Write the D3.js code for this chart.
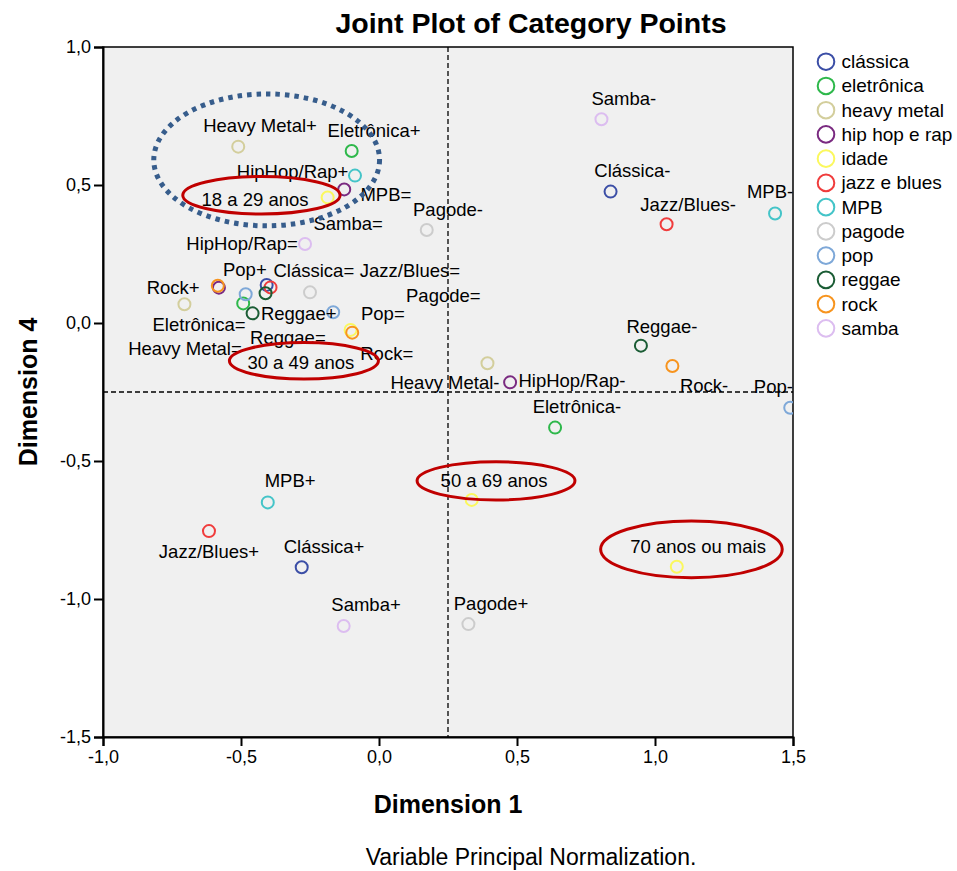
<!DOCTYPE html>
<html><head><meta charset="utf-8">
<script src="https://cdn.jsdelivr.net/npm/d3@7"></script>
<style>
html,body{margin:0;padding:0;background:#fff;}
svg{display:block;font-family:"Liberation Sans",Arial,sans-serif;}
</style></head>
<body>
<svg id="chart" width="957" height="871"></svg>
<script>
// ---- data ----
const categories = ["clássica","eletrônica","heavy metal","hip hop e rap","idade","jazz e blues","MPB","pagode","pop","reggae","rock","samba"];
const categoryColors = ["#3b4ea6","#2eb84b","#d3ce9c","#7a2a80","#fbf85e","#f03c3c","#44c4c8","#cccccc","#7ea8d8","#1a5c34","#f7941e","#dcbdf0"];

// points per variable: [dim1, dim4]
const classica   = [[-0.280,-0.885],[-0.407,0.138],[0.839,0.476]];
const eletronica = [[-0.099,0.623],[-0.492,0.071],[0.638,-0.379]];
const heavyMetal = [[-0.510,0.639],[-0.705,0.068],[0.393,-0.146]];
const hipHopRap  = [[-0.126,0.484],[-0.580,0.128],[0.475,-0.215]];
const idade      = [[-0.186,0.455],[-0.103,-0.025],[0.336,-0.641],[1.079,-0.883]];
const jazzBlues  = [[-0.616,-0.754],[-0.393,0.129],[1.042,0.358]];
const mpb        = [[-0.403,-0.650],[-0.087,0.534],[1.435,0.397]];
const pagode     = [[0.324,-1.091],[-0.250,0.111],[0.173,0.337]];
const pop        = [[-0.483,0.104],[-0.166,0.039],[1.490,-0.307]];
const reggae     = [[-0.411,0.108],[-0.458,0.035],[0.949,-0.082]];
const rock       = [[-0.584,0.135],[-0.097,-0.035],[1.063,-0.156]];
const samba      = [[-0.128,-1.098],[-0.268,0.286],[0.806,0.738]];
const seriesValues = [classica,eletronica,heavyMetal,hipHopRap,idade,jazzBlues,mpb,pagode,pop,reggae,rock,samba];

// point labels (text, dim1, dim4)
const labelText = ["Heavy Metal+","Eletrônica+","HipHop/Rap+","MPB=","Samba=","Pagode-","HipHop/Rap=","Pop+","Clássica=","Jazz/Blues=","Rock+","Pagode=","Reggae+","Pop=","Eletrônica=","Reggae=","Heavy Metal=","Rock=","Heavy Metal-","HipHop/Rap-","Rock-","Pop-","Eletrônica-","Reggae-","Samba-","Clássica-","Jazz/Blues-","MPB-","MPB+","Jazz/Blues+","Clássica+","Samba+","Pagode+","18 a 29 anos","30 a 49 anos","50 a 69 anos","70 anos ou mais"];
const labelX = [-0.431,-0.018,-0.313,0.025,-0.112,0.250,-0.496,-0.486,-0.236,0.112,-0.746,0.233,-0.291,0.014,-0.652,-0.330,-0.703,0.028,0.239,0.699,1.178,1.429,0.717,1.025,0.887,0.918,1.120,1.417,-0.322,-0.616,-0.199,-0.047,0.406,-0.449,-0.283,0.417,1.156];
const labelY = [0.715,0.697,0.548,0.466,0.361,0.412,0.289,0.195,0.192,0.190,0.128,0.098,0.033,0.033,-0.005,-0.052,-0.094,-0.110,-0.216,-0.207,-0.225,-0.231,-0.303,-0.011,0.812,0.554,0.430,0.476,-0.572,-0.829,-0.811,-1.019,-1.018,0.449,-0.144,-0.572,-0.811];

// annotation ellipses: [cx, cy, rx, ry] in data units
const dottedEllipse = [[-0.407,0.591,0.409,0.239]];
const redEllipses = [[-0.426,0.463,0.285,0.068],[-0.272,-0.137,0.270,0.066],[0.424,-0.572,0.286,0.069],[1.132,-0.820,0.329,0.103]];

const xTicks = [-1.0,-0.5,0.0,0.5,1.0,1.5];
const yTicks = [1.0,0.5,0.0,-0.5,-1.0,-1.5];
const refX = 0.25, refY = -0.25;

// ---- layout ----
const svg = d3.select("#chart");
const M = {left:103, top:47, right:793, bottom:737};
const x = d3.scaleLinear().domain([-1,1.5]).range([M.left,M.right]);
const y = d3.scaleLinear().domain([-1.5,1]).range([M.bottom,M.top]);
const color = d3.scaleOrdinal().domain(categories).range(categoryColors);
const fmt = v => d3.format(".1f")(v).replace(".",",").replace("−","-");

svg.append("defs").append("clipPath").attr("id","clip")
  .append("rect").attr("x",M.left).attr("y",M.top).attr("width",M.right-M.left).attr("height",M.bottom-M.top);

svg.append("rect").attr("x",M.left).attr("y",M.top).attr("width",M.right-M.left).attr("height",M.bottom-M.top)
  .attr("fill","#f0f0f0").attr("stroke","#000").attr("stroke-width",1.5);

// title
svg.append("text").attr("x",531).attr("y",33).attr("text-anchor","middle")
  .attr("font-size",28.5).attr("font-weight","bold").text("Joint Plot of Category Points");

// axes
const xAxis = svg.append("g").attr("transform",`translate(0,${M.bottom})`)
  .call(d3.axisBottom(x).tickValues(xTicks).tickFormat(fmt).tickSize(9).tickPadding(4));
const yAxis = svg.append("g").attr("transform",`translate(${M.left},0)`)
  .call(d3.axisLeft(y).tickValues(yTicks).tickFormat(fmt).tickSize(9).tickPadding(3));
[xAxis,yAxis].forEach(g=>{
  g.select(".domain").attr("stroke","#000").attr("stroke-width",2);
  g.selectAll(".tick line").attr("stroke","#000").attr("stroke-width",2);
  g.selectAll(".tick text").attr("font-size",18).attr("font-family","'Liberation Sans',Arial,sans-serif").attr("fill","#000");
});

// axis titles
svg.append("text").attr("x",(M.left+M.right)/2).attr("y",813).attr("text-anchor","middle")
  .attr("font-size",25).attr("font-weight","bold").text("Dimension 1");
svg.append("text").attr("transform",`translate(37,${(M.top+M.bottom)/2}) rotate(-90)`).attr("text-anchor","middle")
  .attr("font-size",25).attr("font-weight","bold").text("Dimension 4");

// footer
svg.append("text").attr("x",531).attr("y",865).attr("text-anchor","middle")
  .attr("font-size",23).text("Variable Principal Normalization.");

const plot = svg.append("g").attr("clip-path","url(#clip)");

// reference lines
plot.append("line").attr("x1",x(refX)).attr("x2",x(refX)).attr("y1",M.top).attr("y2",M.bottom)
  .attr("stroke","#000").attr("stroke-width",1.3).attr("stroke-dasharray","5,3");
plot.append("line").attr("x1",M.left).attr("x2",M.right).attr("y1",y(refY)).attr("y2",y(refY))
  .attr("stroke","#000").attr("stroke-width",1.3).attr("stroke-dasharray","5,3");

// points
const pts = [];
seriesValues.forEach((arr,i)=>arr.forEach(p=>pts.push({cat:categories[i],x:p[0],y:p[1]})));
plot.selectAll("circle.pt").data(pts).join("circle").attr("class","pt")
  .attr("cx",d=>x(d.x)).attr("cy",d=>y(d.y)).attr("r",6)
  .attr("fill","none").attr("stroke",d=>color(d.cat)).attr("stroke-width",2);

// labels
plot.selectAll("text.lbl").data(labelText).join("text").attr("class","lbl")
  .attr("x",(d,i)=>x(labelX[i])).attr("y",(d,i)=>y(labelY[i]))
  .attr("text-anchor","middle").attr("dominant-baseline","central")
  .attr("font-size",18.5).attr("fill","#000").text(d=>d);

// annotations
svg.selectAll("ellipse.dot").data(dottedEllipse).join("ellipse").attr("class","dot")
  .attr("cx",d=>x(d[0])).attr("cy",d=>y(d[1]))
  .attr("rx",d=>x(d[2])-x(0)).attr("ry",d=>y(0)-y(d[3]))
  .attr("fill","none").attr("stroke","#375d8c").attr("stroke-width",5).attr("stroke-dasharray","4.5,5");
svg.selectAll("ellipse.red").data(redEllipses).join("ellipse").attr("class","red")
  .attr("cx",d=>x(d[0])).attr("cy",d=>y(d[1]))
  .attr("rx",d=>x(d[2])-x(0)).attr("ry",d=>y(0)-y(d[3]))
  .attr("fill","none").attr("stroke","#c00000").attr("stroke-width",3);

// legend
const lg = svg.append("g").selectAll("g").data(categories).join("g")
  .attr("transform",(d,i)=>`translate(826,${61.7+i*24.24})`);
lg.append("circle").attr("r",8.3).attr("fill","none").attr("stroke",d=>color(d)).attr("stroke-width",2);
lg.append("text").attr("x",15.5).attr("dominant-baseline","central").attr("font-size",19).text(d=>d);
</script>
</body></html>
